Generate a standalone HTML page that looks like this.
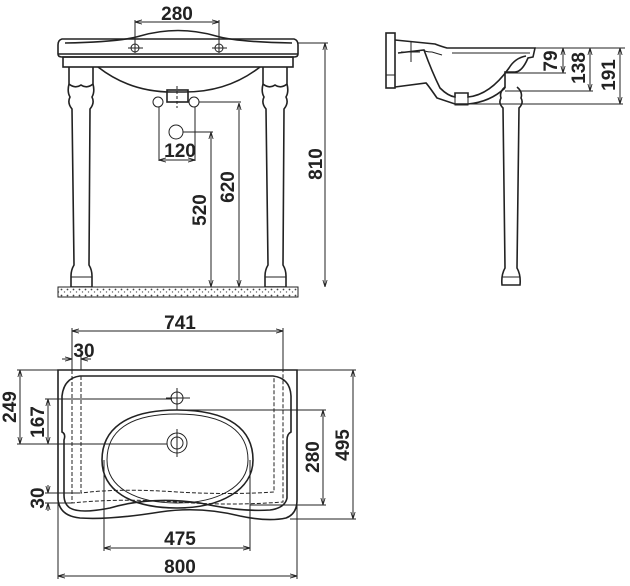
<!DOCTYPE html>
<html><head><meta charset="utf-8"><style>
html,body{margin:0;padding:0;background:#fff;}
svg{display:block}
text{font-family:"Liberation Sans Narrow","Liberation Sans",sans-serif;font-weight:bold;font-size:19px;fill:#222;text-anchor:middle}
.l{stroke:#222;fill:none;stroke-width:1.6}
.t{stroke:#222;fill:none;stroke-width:1}
.d{stroke:#222;fill:none;stroke-width:1;stroke-dasharray:4 2}
</style></head><body>
<svg width="630" height="586" viewBox="0 0 630 586" xmlns="http://www.w3.org/2000/svg">
<defs>
<marker id="a" viewBox="0 0 10 10" refX="10" refY="5" markerWidth="7" markerHeight="7" orient="auto-start-reverse"><path d="M0,2 L10,5 L0,8" fill="none" stroke="#222" stroke-width="1.2"/></marker>
<pattern id="h" width="6" height="6" patternUnits="userSpaceOnUse"><rect width="6" height="6" fill="#fff"/><circle cx="1.5" cy="1.5" r="0.9" fill="#444"/><circle cx="4.5" cy="4" r="0.7" fill="#666"/></pattern>
</defs>

<!-- FRONT VIEW -->
<path class="l" d="M62,39 Q58,40 58,45 L58,54 Q58,57 62,57 L294,57 Q298,57 298,54 L298,45 Q298,40 294,39 Z"/>
<path class="l" d="M65,43 Q120,42 140,36 Q178,25 216,36 Q236,42 292,43"/>
<line class="l" x1="58" y1="54" x2="298" y2="54"/>
<rect class="l" x="63" y="57" width="230" height="10"/>
<path class="l" d="M98,67 Q130,92 172,92 L185,92 Q228,92 260,67"/>
<rect class="l" x="167" y="90" width="21" height="12"/>
<!-- legs -->
<path class="l" d="M69,67 L69,84 Q75,89 81,85 Q87,89 93,84 L93,67 M69,84 Q67,92 70,97 Q67,103 72,109 L74,265 Q71,270 71,276 L71,287 L92,287 L92,276 Q92,270 89,265 L90,109 Q95,103 92,97 Q95,92 93,84"/>
<path class="l" d="M263,67 L263,84 Q269,89 275,85 Q281,89 287,84 L287,67 M263,84 Q261,92 264,97 Q261,103 266,109 L268,265 Q265,270 265,276 L265,287 L286,287 L286,276 Q286,270 283,265 L284,109 Q289,103 286,97 Q289,92 287,84"/>
<line class="t" x1="71" y1="277" x2="92" y2="277"/><line class="t" x1="265" y1="277" x2="286" y2="277"/>
<!-- holes -->
<circle class="t" cx="135" cy="48" r="4"/><circle class="t" cx="219" cy="48" r="4"/>
<line class="t" x1="128" y1="48" x2="143" y2="48"/><line class="t" x1="212" y1="48" x2="227" y2="48"/>
<line class="t" x1="135" y1="20" x2="135" y2="53"/><line class="t" x1="219" y1="20" x2="219" y2="53"/>
<line class="t" x1="135" y1="22" x2="219" y2="22" marker-start="url(#a)" marker-end="url(#a)"/>
<text x="177" y="20">280</text>
<circle class="t" cx="158" cy="102" r="5"/><circle class="t" cx="194" cy="102" r="5"/>
<line class="t" x1="177" y1="86" x2="177" y2="108" stroke-dasharray="3 2"/>
<circle class="t" cx="176" cy="132" r="7"/>
<line class="t" x1="159" y1="107" x2="159" y2="161"/><line class="t" x1="195" y1="107" x2="195" y2="161"/>
<line class="t" x1="159" y1="160" x2="195" y2="160" marker-start="url(#a)" marker-end="url(#a)"/>
<text x="180" y="157">120</text>
<line class="t" x1="183" y1="132" x2="213" y2="132"/>
<line class="t" x1="211" y1="132" x2="211" y2="287" marker-start="url(#a)" marker-end="url(#a)"/>
<text transform="translate(206,210) rotate(-90)">520</text>
<line class="t" x1="199" y1="102" x2="241" y2="102"/>
<line class="t" x1="239" y1="103" x2="239" y2="287" marker-start="url(#a)" marker-end="url(#a)"/>
<text transform="translate(234,187) rotate(-90)">620</text>
<line class="t" x1="298" y1="43" x2="328" y2="43"/>
<line class="t" x1="325" y1="43" x2="325" y2="287" marker-start="url(#a)" marker-end="url(#a)"/>
<text transform="translate(322,164) rotate(-90)">810</text>
<rect x="58" y="287" width="240" height="10" fill="url(#h)" stroke="#222" stroke-width="1"/>

<!-- SIDE VIEW -->
<rect class="l" x="386" y="33" width="9" height="55"/>
<line class="t" x1="386" y1="75" x2="395" y2="75"/>
<path class="l" d="M395,40 L435,44 Q440,46 447,48 L535,48 L533,57 L528,58 Q522,72 515,72 L505,72 L505,88"/>
<path class="l" d="M395,87 L426,83 Q428,85 437,98 L455,104 L468,104 Q490,102 505,88"/>
<path class="l" d="M398,53 L424,50 Q432,72 440,88 Q448,96 455,97 L455,93 L468,93 L468,97 Q490,95 509,68 Q515,58 526,56"/>
<path class="t" d="M424,50 Q425,52 432,52 L442,55 M452,53 L530,53"/>
<rect class="t" x="455" y="93" width="13" height="12"/>
<line class="t" x1="411" y1="42" x2="411" y2="62"/><line class="t" x1="401" y1="52" x2="420" y2="52"/>
<path class="l" d="M505,87 Q499,92 501,98 Q498,103 503,108 L505,268 Q501,275 502,285 L520,285 Q521,275 517,268 L519,108 Q524,103 521,98 Q523,92 517,87"/>
<line class="t" x1="502" y1="277" x2="520" y2="277"/>
<line class="t" x1="535" y1="48" x2="625" y2="48"/>
<line class="t" x1="505" y1="73" x2="566" y2="73"/>
<line class="t" x1="505" y1="91" x2="593" y2="91"/>
<line class="t" x1="470" y1="104" x2="623" y2="104"/>
<line class="t" x1="563" y1="48" x2="563" y2="73" marker-start="url(#a)" marker-end="url(#a)"/>
<line class="t" x1="590" y1="48" x2="590" y2="91" marker-start="url(#a)" marker-end="url(#a)"/>
<line class="t" x1="620" y1="48" x2="620" y2="104" marker-start="url(#a)" marker-end="url(#a)"/>
<text transform="translate(557,61) rotate(-90)">79</text>
<text transform="translate(585,68) rotate(-90)">138</text>
<text transform="translate(615,75) rotate(-90)">191</text>

<!-- TOP VIEW -->
<path class="l" d="M58,370 L297,370 L297,500 Q297,514 286,518 Q268,522 240,516 Q200,506 160,512 Q110,520 80,518 Q60,516 58,500 Z"/>
<path class="l" d="M80,376 L273,376 Q290,378 291,396 L291,432 Q287,434 287,440 L287,498 Q285,508 270,510 Q240,512 200,503 Q150,496 110,508 Q80,514 70,508 Q64,504 64,495 L64,440 Q66,434 62,432 L62,396 Q64,378 80,376 Z"/>
<path class="d" d="M72,370 L72,503 Q120,498 177,502 Q230,506 283,502 L283,370"/>
<path class="d" d="M81,376 L81,493 Q120,488 177,492 Q230,495 274,492 L274,376"/>
<path class="l" d="M177,410 C230,410 253,430 253,460 C253,490 220,508 177,508 C130,508 102,490 102,460 C102,430 125,410 177,410 Z"/>
<path class="t" d="M177,414 C226,414 248,432 248,460 C248,487 217,503 177,503 C135,503 107,487 107,460 C107,432 128,414 177,414 Z"/>
<circle class="t" cx="177" cy="398" r="6"/>
<line class="t" x1="177" y1="388" x2="177" y2="410"/><line class="t" x1="166" y1="398" x2="190" y2="398"/>
<circle class="t" cx="177" cy="443" r="10"/><circle class="t" cx="177" cy="443" r="6"/>
<line class="t" x1="177" y1="429" x2="177" y2="457"/>
<!-- dims top -->
<line class="t" x1="72" y1="328" x2="72" y2="370"/><line class="t" x1="283" y1="328" x2="283" y2="370"/>
<line class="t" x1="72" y1="331" x2="283" y2="331" marker-start="url(#a)" marker-end="url(#a)"/>
<text x="180" y="329">741</text>
<line class="t" x1="81" y1="355" x2="81" y2="370"/>
<line class="t" x1="62" y1="359" x2="72" y2="359" marker-end="url(#a)"/>
<line class="t" x1="91" y1="359" x2="81" y2="359" marker-end="url(#a)"/>
<text x="84" y="357">30</text>
<line class="t" x1="17" y1="370" x2="58" y2="370"/>
<line class="t" x1="17" y1="444" x2="167" y2="444"/>
<line class="t" x1="20" y1="370" x2="20" y2="444" marker-start="url(#a)" marker-end="url(#a)"/>
<text transform="translate(16,407) rotate(-90)">249</text>
<line class="t" x1="45" y1="399" x2="172" y2="399"/>
<line class="t" x1="48" y1="399" x2="48" y2="444" marker-start="url(#a)" marker-end="url(#a)"/>
<text transform="translate(44,422) rotate(-90)">167</text>
<line class="t" x1="45" y1="493" x2="80" y2="493"/>
<line class="t" x1="45" y1="503" x2="72" y2="503"/>
<line class="t" x1="48" y1="485" x2="48" y2="493" marker-end="url(#a)"/>
<line class="t" x1="48" y1="511" x2="48" y2="503" marker-end="url(#a)"/>
<text transform="translate(44,498) rotate(-90)">30</text>
<line class="t" x1="177" y1="410" x2="326" y2="410"/>
<line class="t" x1="250" y1="505" x2="326" y2="505"/>
<line class="t" x1="323" y1="410" x2="323" y2="505" marker-start="url(#a)" marker-end="url(#a)"/>
<text transform="translate(319,457) rotate(-90)">280</text>
<line class="t" x1="297" y1="370" x2="356" y2="370"/>
<line class="t" x1="290" y1="519" x2="356" y2="519"/>
<line class="t" x1="353" y1="370" x2="353" y2="519" marker-start="url(#a)" marker-end="url(#a)"/>
<text transform="translate(349,445) rotate(-90)">495</text>
<line class="t" x1="104" y1="460" x2="104" y2="551"/><line class="t" x1="250" y1="460" x2="250" y2="551"/>
<line class="t" x1="104" y1="548" x2="250" y2="548" marker-start="url(#a)" marker-end="url(#a)"/>
<text x="180" y="545">475</text>
<line class="t" x1="58" y1="500" x2="58" y2="579"/><line class="t" x1="297" y1="500" x2="297" y2="579"/>
<line class="t" x1="58" y1="576" x2="297" y2="576" marker-start="url(#a)" marker-end="url(#a)"/>
<text x="180" y="573">800</text>
</svg>
</body></html>
